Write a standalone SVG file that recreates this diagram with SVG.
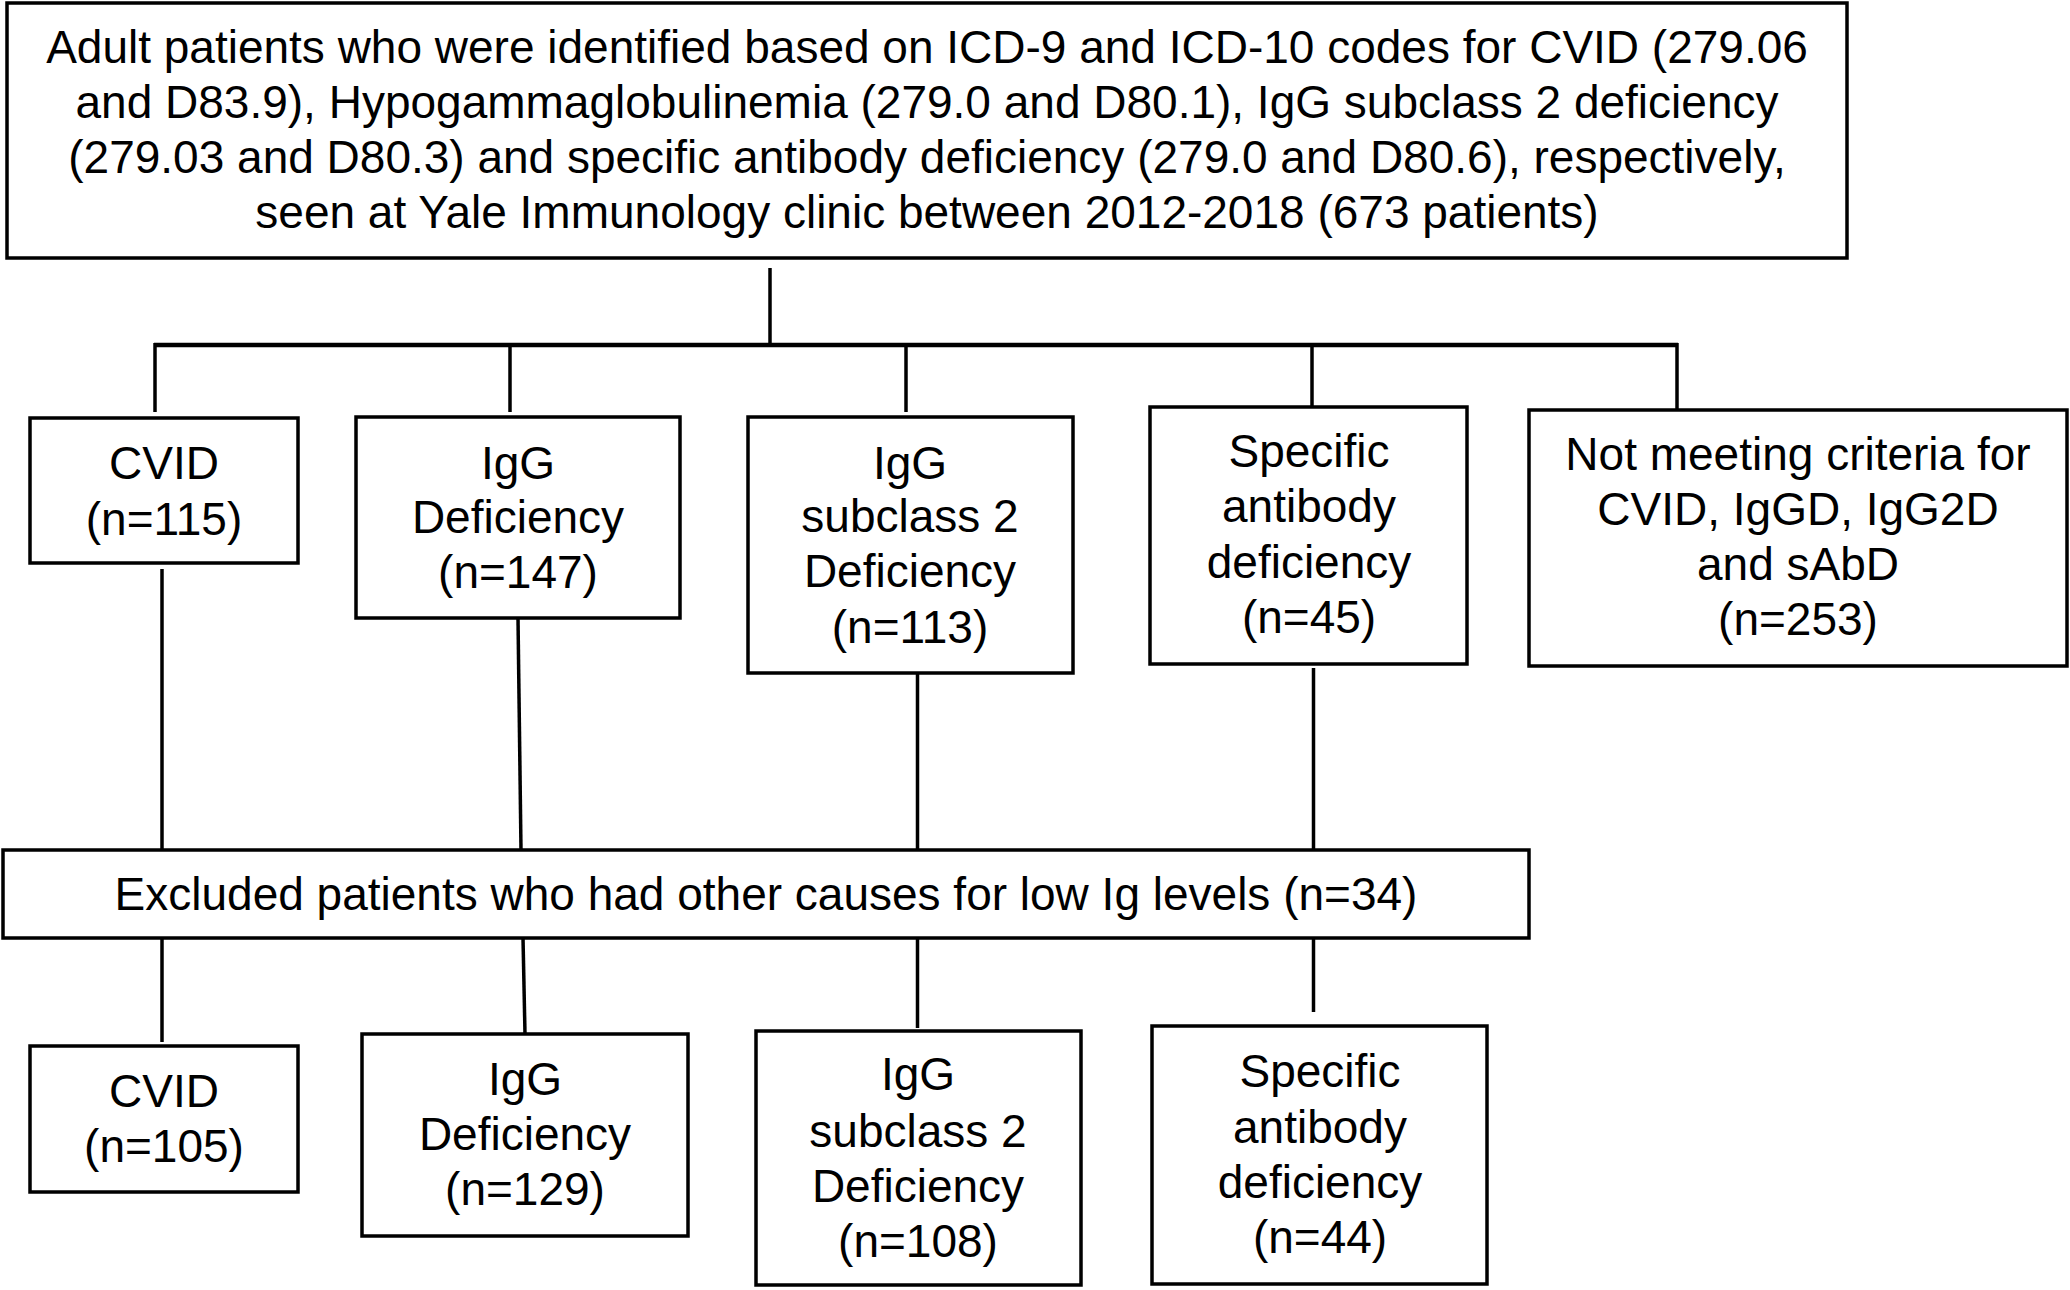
<svg xmlns="http://www.w3.org/2000/svg" width="2070" height="1290" viewBox="0 0 2070 1290">
<style>
.box{fill:#fff;stroke:#000;stroke-width:3.5}
.ln{stroke:#000;stroke-width:3.5;fill:none;stroke-linecap:butt}
.bus{stroke:#000;stroke-width:4.5;fill:none}
text{font-family:"Liberation Sans",Arial,Helvetica,sans-serif;font-size:46px;fill:#000;text-anchor:middle}
</style>
<rect width="2070" height="1290" fill="#fff"/>
<g id="connectors">
<line class="ln" x1="770" y1="268" x2="770" y2="346"/>
<line class="bus" x1="154" y1="345" x2="1678" y2="345"/>
<line class="ln" x1="155" y1="343" x2="155" y2="412"/>
<line class="ln" x1="510" y1="343" x2="510" y2="412"/>
<line class="ln" x1="906" y1="343" x2="906" y2="412"/>
<line class="ln" x1="1312" y1="343" x2="1312" y2="407"/>
<line class="ln" x1="1677" y1="343" x2="1677" y2="410"/>
<line class="ln" x1="162" y1="569" x2="162" y2="850"/>
<line class="ln" x1="518" y1="618" x2="521" y2="850"/>
<line class="ln" x1="917.5" y1="673" x2="917.5" y2="850"/>
<line class="ln" x1="1313.5" y1="668" x2="1313.5" y2="850"/>
<line class="ln" x1="162" y1="938" x2="162" y2="1042"/>
<line class="ln" x1="523" y1="938" x2="525" y2="1034"/>
<line class="ln" x1="917.5" y1="938" x2="917.5" y2="1028"/>
<line class="ln" x1="1313.5" y1="938" x2="1313.5" y2="1012"/>
</g>
<g id="top">
<rect class="box" x="7" y="3" width="1840" height="255"/>
<text x="927" y="63">Adult patients who were identified based on ICD-9 and ICD-10 codes for CVID (279.06</text>
<text x="927" y="118">and D83.9), Hypogammaglobulinemia (279.0 and D80.1), IgG subclass 2 deficiency</text>
<text x="927" y="173">(279.03 and D80.3) and specific antibody deficiency (279.0 and D80.6), respectively,</text>
<text x="927" y="228">seen at Yale Immunology clinic between 2012-2018 (673 patients)</text>
</g>
<g id="cvid1">
<rect class="box" x="30" y="418" width="268" height="145"/>
<text x="164" y="479">CVID</text>
<text x="164" y="535">(n=115)</text>
</g>
<g id="igg1">
<rect class="box" x="356" y="417" width="324" height="201"/>
<text x="518" y="479">IgG</text>
<text x="518" y="533">Deficiency</text>
<text x="518" y="588">(n=147)</text>
</g>
<g id="igg2d1">
<rect class="box" x="748" y="417" width="325" height="256"/>
<text x="910" y="479">IgG</text>
<text x="910" y="532">subclass 2</text>
<text x="910" y="587">Deficiency</text>
<text x="910" y="643">(n=113)</text>
</g>
<g id="sabd1">
<rect class="box" x="1150" y="407" width="317" height="257"/>
<text x="1309" y="467">Specific</text>
<text x="1309" y="522">antibody</text>
<text x="1309" y="578">deficiency</text>
<text x="1309" y="633">(n=45)</text>
</g>
<g id="notmeeting">
<rect class="box" x="1529" y="410" width="538" height="256"/>
<text x="1798" y="470">Not meeting criteria for</text>
<text x="1798" y="525">CVID, IgGD, IgG2D</text>
<text x="1798" y="580">and sAbD</text>
<text x="1798" y="635">(n=253)</text>
</g>
<g id="excluded">
<rect class="box" x="3" y="850" width="1526" height="88"/>
<text x="766" y="910">Excluded patients who had other causes for low Ig levels (n=34)</text>
</g>
<g id="cvid2">
<rect class="box" x="30" y="1046" width="268" height="146"/>
<text x="164" y="1107">CVID</text>
<text x="164" y="1162">(n=105)</text>
</g>
<g id="igg2">
<rect class="box" x="362" y="1034" width="326" height="202"/>
<text x="525" y="1095">IgG</text>
<text x="525" y="1150">Deficiency</text>
<text x="525" y="1205">(n=129)</text>
</g>
<g id="igg2d2">
<rect class="box" x="756" y="1031" width="325" height="254"/>
<text x="918" y="1090">IgG</text>
<text x="918" y="1147">subclass 2</text>
<text x="918" y="1202">Deficiency</text>
<text x="918" y="1257">(n=108)</text>
</g>
<g id="sabd2">
<rect class="box" x="1152" y="1026" width="335" height="258"/>
<text x="1320" y="1087">Specific</text>
<text x="1320" y="1143">antibody</text>
<text x="1320" y="1198">deficiency</text>
<text x="1320" y="1253">(n=44)</text>
</g>
</svg>
